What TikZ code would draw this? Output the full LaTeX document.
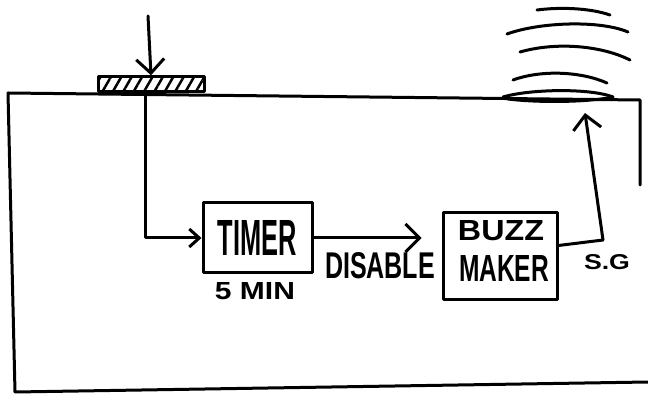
\documentclass[tikz,border=0pt]{standalone}
\usepackage{fontspec}
\setmainfont{Liberation Sans}
\usetikzlibrary{arrows.meta,patterns.meta}
\newcommand{\hw}[3]{\resizebox{#1pt}{#2pt}{\bfseries #3}}
\begin{document}
\begin{tikzpicture}[x=1pt,y=-1pt,
  ink/.style={line width=3pt,line cap=round,line join=round},
  arr/.style={ink,-{Straight Barb[length=14pt,width=28pt,line width=3pt]}},
  smallarr/.style={ink,-{Straight Barb[length=10pt,width=18pt,line width=3pt]}},
  blockbox/.style={draw,ink,inner sep=0pt},
  lab/.style={inner sep=0pt}
]
\useasboundingbox (0,0) rectangle (648,395);
% outer enclosure
\draw[ink] (640,185) -- (640,100) -- (8,93) -- (15,392) -- (648,382);
% button
\node[draw,ink,inner sep=0pt,minimum width=106pt,minimum height=15pt,
  pattern={Lines[angle=60,distance=9pt,line width=2.5pt]}] (btn) at (151,84) {};
\coordinate (press) at (148,16);
\draw[arr] (press) -- (btn.north);
% timer
\node[blockbox,minimum width=109pt,minimum height=70pt] (timer) at (257.5,238) {\hw{79}{35}{TIMER}};
\node[lab] (tlab) at (255,291) {\hw{80}{17}{5 MIN}};
\draw[smallarr] ([xshift=-6pt]btn.south) |- (timer.west);
% buzz maker
\node[blockbox,minimum width=114pt,minimum height=87pt] (buzz) at (500,256.5) {};
\node[lab] (buzz1) at (501,231) {\hw{86}{20}{BUZZ}};
\node[lab] (buzz2) at (504,268) {\hw{90}{26}{MAKER}};
\draw[arr,shorten >=20pt] (timer.east) -- (timer.east -| buzz.west);
\node[lab] (dis) at (380,266) {\hw{110}{26}{DISABLE}};
% output
\coordinate (sgc) at (603,240);
\coordinate (sgtop) at (585,113);
\draw[ink] ([yshift=11pt]buzz.east) -- (sgc);
\draw[arr] (sgc) -- (sgtop);
\node[lab] (sg) at (607,262) {\hw{46}{15}{S.G}};
% speaker and sound waves
\draw[ink] (503,97) .. controls (530,89) and (590,88) .. (613,97);
\draw[ink] (508,99) .. controls (540,103) and (590,102) .. (613,97);
\draw[ink] (513,80) .. controls (540,70) and (580,71) .. (607,83);
\draw[ink] (520,52) .. controls (555,42) and (600,45) .. (630,60);
\draw[ink] (507,34) .. controls (540,22) and (600,20) .. (628,32);
\draw[ink] (537,10) .. controls (560,7) and (590,8) .. (610,15);
\end{tikzpicture}
\end{document}
